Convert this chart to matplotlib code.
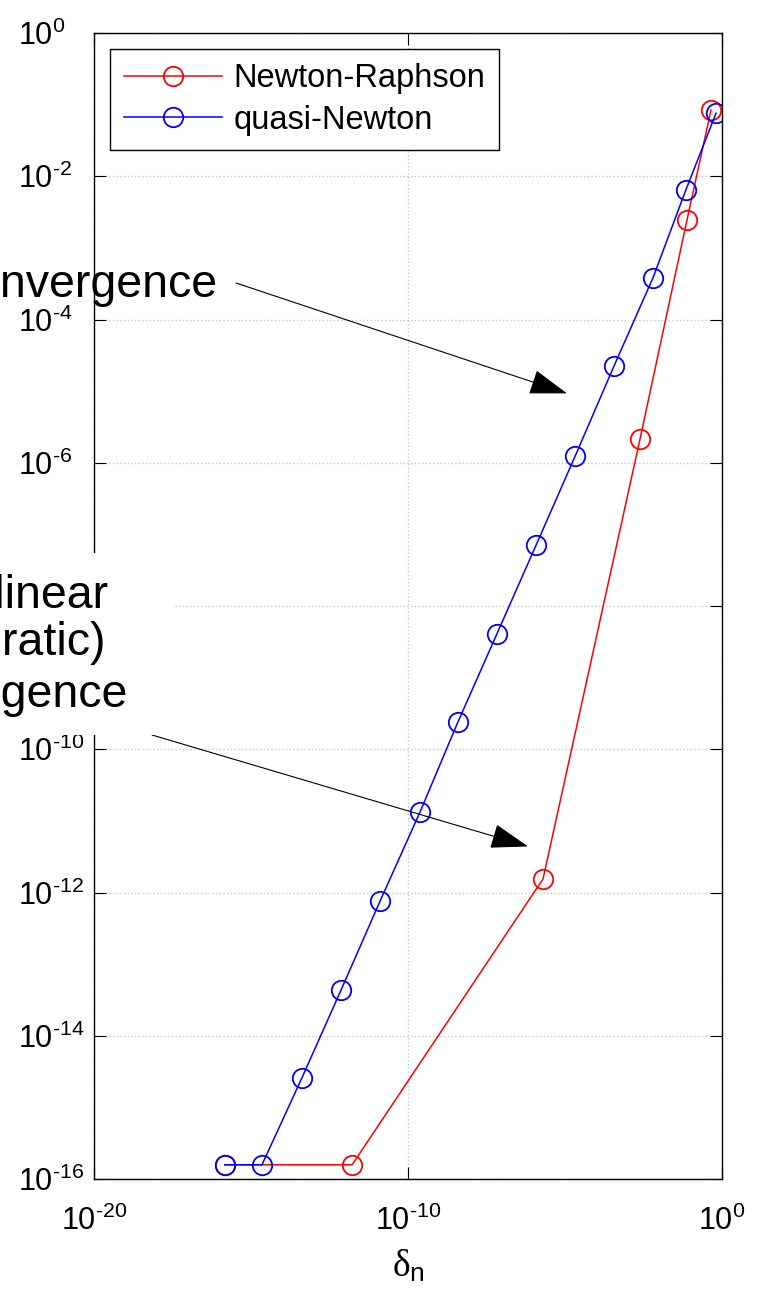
import matplotlib
matplotlib.use('Agg')
import matplotlib.pyplot as plt
from matplotlib.patches import Rectangle, ArrowStyle

plt.rcParams['font.family'] = ['Liberation Sans', 'DejaVu Sans']
plt.rcParams['axes.unicode_minus'] = False
plt.rcParams['mathtext.fontset'] = 'custom'
plt.rcParams['mathtext.rm'] = 'Liberation Sans'
plt.rcParams['mathtext.it'] = 'Liberation Serif'

# Newton-Raphson: step size delta_n vs error
nr_delta = [1.48e-16, 1.66e-12, 2.0e-6, 2.45e-3, 7.67e-2, 0.447]
nr_err = [1.58e-16, 1.58e-16, 1.55e-12, 2.14e-6, 2.45e-3, 8.4e-2]

# quasi-Newton
qn_delta = [1.48e-16, 2.24e-15, 4.17e-14, 7.41e-13, 1.29e-11, 2.40e-10, 3.89e-9,
            6.76e-8, 1.20e-6, 2.09e-5, 3.63e-4, 6.31e-3, 7.08e-2, 0.646]
qn_err = [1.58e-16, 1.58e-16, 2.57e-15, 4.37e-14, 7.59e-13, 1.32e-11, 2.40e-10,
          4.07e-9, 7.08e-8, 1.23e-6, 2.24e-5, 3.80e-4, 6.46e-3, 7.59e-2]

xtick_exp = [-20, -10, 0]
ytick_exp = [-16, -14, -12, -10, -8, -6, -4, -2, 0]
hidden_exp = [-8]  # label sits under the white text box in the original


def pow_label(e):
    # matlab style 10^-2 with a plain hyphen
    if e in hidden_exp:
        return ''
    if e < 0:
        return r'$\mathregular{10^{\text{-}%d}}$' % (-e)
    return r'$\mathregular{10^{%d}}$' % e


W, H = 758, 1292
fig = plt.figure(figsize=(W / 100, H / 100), dpi=100)
ax = fig.add_axes([94 / W, 1 - 1179 / H, 628 / W, 1146 / H])

ax.plot(nr_delta, nr_err, '-o', color='r', mfc='none', ms=14, mew=1.3, lw=1.1, label='Newton-Raphson')
ax.plot(qn_delta, qn_err, '-o', color='b', mfc='none', ms=14, mew=1.3, lw=1.1, label='quasi-Newton')

ax.set_xscale('log')
ax.set_yscale('log')
ax.set_xlim(1e-20, 1)
ax.set_ylim(1e-16, 1)
ax.set_xticks([10.0 ** e for e in xtick_exp])
ax.set_xticklabels([pow_label(e) for e in xtick_exp])
ax.set_yticks([10.0 ** e for e in ytick_exp])
ax.set_yticklabels([pow_label(e) for e in ytick_exp])
ax.minorticks_off()
ax.grid(True, color='#c8c8c8', ls=':', lw=1)
ax.tick_params(direction='in', top=True, right=True, length=8.5, width=0.8, labelsize=22)
ax.tick_params(axis='y', pad=55)
ax.tick_params(axis='x', pad=19)
plt.setp(ax.get_yticklabels(), ha='left')
for s in ax.spines.values():
    s.set_linewidth(1.0)

ax.set_xlabel(r'$\delta_{\mathrm{n}}$', fontsize=27, labelpad=8)

leg = ax.legend(loc='upper left', fontsize=23.5, fancybox=False, edgecolor='k', framealpha=1,
                borderaxespad=0.5, handlelength=3.0, handletextpad=0.35, borderpad=0.42,
                labelspacing=0.33)
leg.get_frame().set_linewidth(1.0)

# annotations (text partly outside the canvas, as in the original)
arrow = ArrowStyle('-|>', head_length=24, head_width=8)
aprops = dict(arrowstyle=arrow, mutation_scale=1, color='k', lw=0.8, shrinkA=0, shrinkB=0)
ax.annotate('', xy=(1.15e-5, 9.3e-6), xycoords='data', xytext=(236, 1009),
            textcoords='figure pixels', arrowprops=aprops)
ax.annotate('', xy=(6.6e-7, 4.4e-12), xycoords='data', xytext=(152, 557),
            textcoords='figure pixels', arrowprops=aprops)

fig.text(217 / W, 995 / H, 'linear convergence', ha='right', va='baseline', fontsize=33.5, zorder=6)

fig.add_artist(Rectangle((-10 / W, 557 / H), 183 / W, 182 / H, transform=fig.transFigure,
                         facecolor='white', edgecolor='none', zorder=5))
for txt, yb in zip(['superlinear', '(quadratic)', 'convergence'], [684, 637, 585]):
    fig.text(-6 / W, yb / H, txt, ha='center', va='baseline', fontsize=33.5, zorder=6)

fig.savefig('out.png', dpi=100)
